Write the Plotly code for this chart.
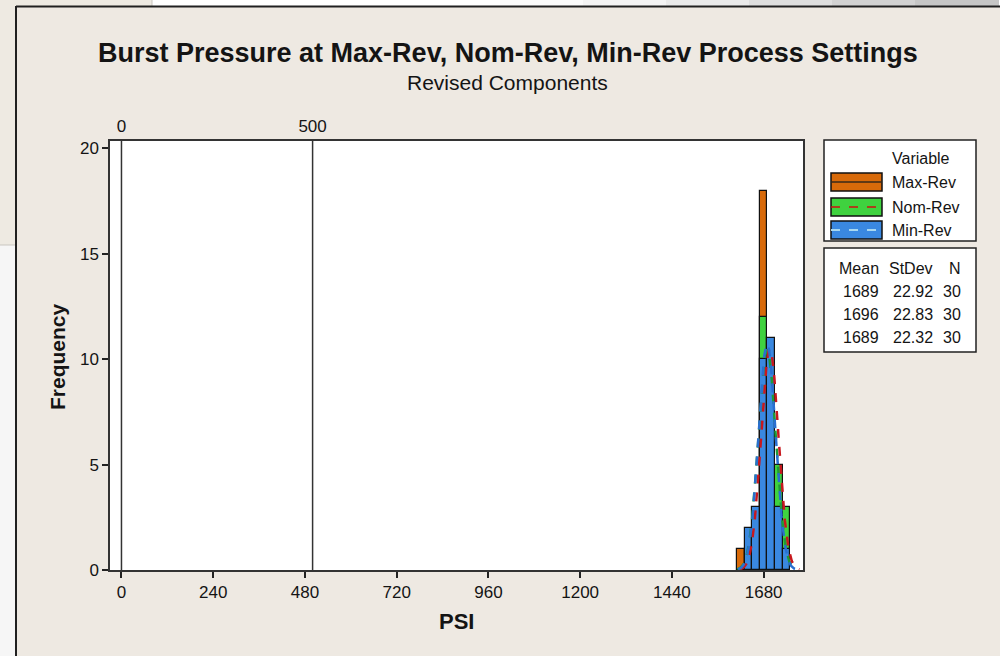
import numpy as np
import plotly.graph_objects as go

# ---------------- data ----------------
bin_centers = [1620, 1640, 1660, 1680, 1700, 1720, 1740]
bin_width = 20
series_names = ["Max-Rev", "Nom-Rev", "Min-Rev"]
max_rev_counts = [1, 0, 1, 18, 5, 3, 2]
nom_rev_counts = [0, 1, 1, 12, 8, 5, 3]
min_rev_counts = [0, 2, 3, 10, 11, 3, 1]
means = [1689, 1696, 1689]
stdevs = [22.92, 22.83, 22.32]
ns = [30, 30, 30]
ref_lines = [0, 500]
x_ticks = [0, 240, 480, 720, 960, 1200, 1440, 1680]
y_ticks = [0, 5, 10, 15, 20]

bar_colors = ["#D86A0A", "#3FD23F", "#3A88E0"]
curve_colors = ["#1E9A3A", "#C8181E", "#2A6FD0"]
curve_dash = ["dash", "dash", "dash"]

FONT = "Liberation Sans"
TXT = "#141414"

# pixel geometry of plot area
L, R, T, B = 110, 803, 141, 570
W, H = R - L, B - T


def px(p):
    return (p - L) / W


def py(p):
    return (B - p) / H


fig = go.Figure()
counts_all = [max_rev_counts, nom_rev_counts, min_rev_counts]
for name, counts, col in zip(series_names, counts_all, bar_colors):
    fig.add_trace(go.Bar(x=bin_centers, y=counts, width=bin_width, name=name,
                         marker=dict(color=col, line=dict(color="#111111", width=1.2)),
                         showlegend=False))

for i, name in enumerate(series_names):
    m, s, n = means[i], stdevs[i], ns[i]
    xs = np.linspace(m - 3.4 * s, m + 3.4 * s, 200)
    ys = n * bin_width * np.exp(-0.5 * ((xs - m) / s) ** 2) / (s * np.sqrt(2 * np.pi))
    fig.add_trace(go.Scatter(x=xs, y=ys, mode="lines", showlegend=False,
                             line=dict(color=curve_colors[i], width=2.5, dash=curve_dash[i])))

# invisible trace for top axis
fig.add_trace(go.Scatter(x=[0], y=[0], xaxis="x2", mode="markers",
                         marker=dict(opacity=0), showlegend=False, hoverinfo="skip"))

shapes = []
for v in ref_lines:
    shapes.append(dict(type="line", xref="x", yref="paper", x0=v, x1=v, y0=0, y1=1,
                       line=dict(color="#333333", width=1.5)))


def rect(x0, x1, y0, y1, fill, line=None, layer="above"):
    return dict(type="rect", xref="paper", yref="paper", x0=px(x0), x1=px(x1), y0=py(y1), y1=py(y0),
                fillcolor=fill, line=line or dict(width=0), layer=layer)


def pline(x0, x1, y0, y1, color, width):
    return dict(type="line", xref="paper", yref="paper", x0=px(x0), x1=px(x1), y0=py(y0), y1=py(y1),
                line=dict(color=color, width=width), layer="above")


# outside-of-frame decorations (screenshot surroundings)
shapes.append(rect(0, 1000, 0, 6, "#FFFFFF"))
grays = ["#FBFBFB", "#F4F4F4", "#EAEAEA", "#DEDEDE", "#D2D2D2", "#C6C6C6"]
for k, g in enumerate(grays):
    x0 = 500 + k * 83
    shapes.append(rect(x0, x0 + 84, 0, 6, g))
shapes.append(rect(0, 16, 245, 656, "#F6F6F6"))
shapes.append(rect(0, 16, 0, 245, "#EEEAE2"))
shapes.append(rect(0, 152, 0, 6, "#EEEAE2"))
shapes.append(pline(152, 152, 0, 6, "#C9C6C0", 1))
shapes.append(pline(0, 16, 245, 245, "#C9C6C0", 1))
shapes.append(pline(16, 1001, 6.5, 6.5, "#202020", 2))
shapes.append(pline(16, 16, 6, 657, "#202020", 2))

# legend boxes
shapes.append(rect(824, 976, 140, 241, "#FFFFFF", dict(color="#222222", width=1.5)))
shapes.append(rect(824, 976, 248, 352, "#FFFFFF", dict(color="#222222", width=1.5)))
sw_y = [(173, 191), (198, 216), (221, 239)]
leg_line = [dict(color="#3A2A1A", width=1.5), dict(color="#D01010", width=1.5, dash="dash"),
            dict(color="#A8D8F0", width=2, dash="dash")]
annotations = []
for i, name in enumerate(series_names):
    y0, y1 = sw_y[i]
    shapes.append(rect(831, 882, y0, y1, bar_colors[i], dict(color="#111111", width=1.5)))
    ym = (y0 + y1) / 2
    shapes.append(dict(type="line", xref="paper", yref="paper", x0=px(831), x1=px(882), y0=py(ym), y1=py(ym),
                       line=leg_line[i], layer="above"))
    annotations.append(dict(xref="paper", yref="paper", x=px(890), y=py(ym), text=name, showarrow=False,
                            xanchor="left", yanchor="middle", font=dict(family=FONT, size=16, color=TXT)))
annotations.append(dict(xref="paper", yref="paper", x=px(890), y=py(158), text="Variable", showarrow=False,
                        xanchor="left", yanchor="middle", font=dict(family=FONT, size=16, color=TXT)))

# stats table
col_right = [881, 935, 963]
headers = ["Mean", "StDev", "N"]
for h, cx in zip(headers, col_right):
    annotations.append(dict(xref="paper", yref="paper", x=px(cx), y=py(268), text=h, showarrow=False,
                            xanchor="right", yanchor="middle", font=dict(family=FONT, size=16, color=TXT)))
row_y = [291, 314, 337]
for i in range(3):
    vals = [f"{means[i]}", f"{stdevs[i]:.2f}", f"{ns[i]}"]
    for v, cx in zip(vals, col_right):
        annotations.append(dict(xref="paper", yref="paper", x=px(cx), y=py(row_y[i]), text=v, showarrow=False,
                                xanchor="right", yanchor="middle", font=dict(family=FONT, size=16, color=TXT)))

# titles
annotations.append(dict(xref="paper", yref="paper", x=px(508), y=py(53),
                        text="<b>Burst Pressure at Max-Rev, Nom-Rev, Min-Rev Process Settings</b>",
                        showarrow=False, xanchor="center", yanchor="middle",
                        font=dict(family=FONT, size=27, color=TXT)))
annotations.append(dict(xref="paper", yref="paper", x=px(507), y=py(82), text="Revised Components",
                        showarrow=False, xanchor="center", yanchor="middle",
                        font=dict(family=FONT, size=21, color=TXT)))
annotations.append(dict(xref="paper", yref="paper", x=px(57), y=py(357), text="<b>Frequency</b>",
                        textangle=-90, showarrow=False, xanchor="center", yanchor="middle",
                        font=dict(family=FONT, size=21, color=TXT)))
annotations.append(dict(xref="paper", yref="paper", x=px(456), y=py(621), text="<b>PSI</b>",
                        showarrow=False, xanchor="center", yanchor="middle",
                        font=dict(family=FONT, size=22, color=TXT)))

xr = [-30, 1783]
fig.update_layout(
    width=1000, height=656,
    margin=dict(l=L, r=1000 - R, t=T, b=656 - B, autoexpand=False),
    paper_bgcolor="#EEE9E2", plot_bgcolor="#FFFFFF",
    barmode="overlay", bargap=0,
    shapes=shapes, annotations=annotations,
    xaxis=dict(range=xr, tickvals=x_ticks, ticks="outside", ticklen=6, tickwidth=1.5, tickcolor="#222",
               showline=True, linecolor="#333333", linewidth=1.5, mirror=True, showgrid=False, zeroline=False,
               automargin=False, tickfont=dict(family=FONT, size=17, color=TXT)),
    xaxis2=dict(range=xr, overlaying="x", side="top", tickvals=ref_lines, ticks="", showgrid=False,
                zeroline=False, showline=False, automargin=False, ticklabelstandoff=5,
                tickfont=dict(family=FONT, size=17, color=TXT)),
    yaxis=dict(range=[0, 20.35], tickvals=y_ticks, ticks="outside", ticklen=6, tickwidth=1.5, tickcolor="#222",
               showline=True, linecolor="#333333", linewidth=1.5, mirror=True, showgrid=False, zeroline=False,
               automargin=False, tickfont=dict(family=FONT, size=17, color=TXT)),
    showlegend=False,
)

fig.write_html("out.html", config={"displayModeBar": False},
               post_script="document.body.style.margin='0';document.body.style.overflow='hidden';")
